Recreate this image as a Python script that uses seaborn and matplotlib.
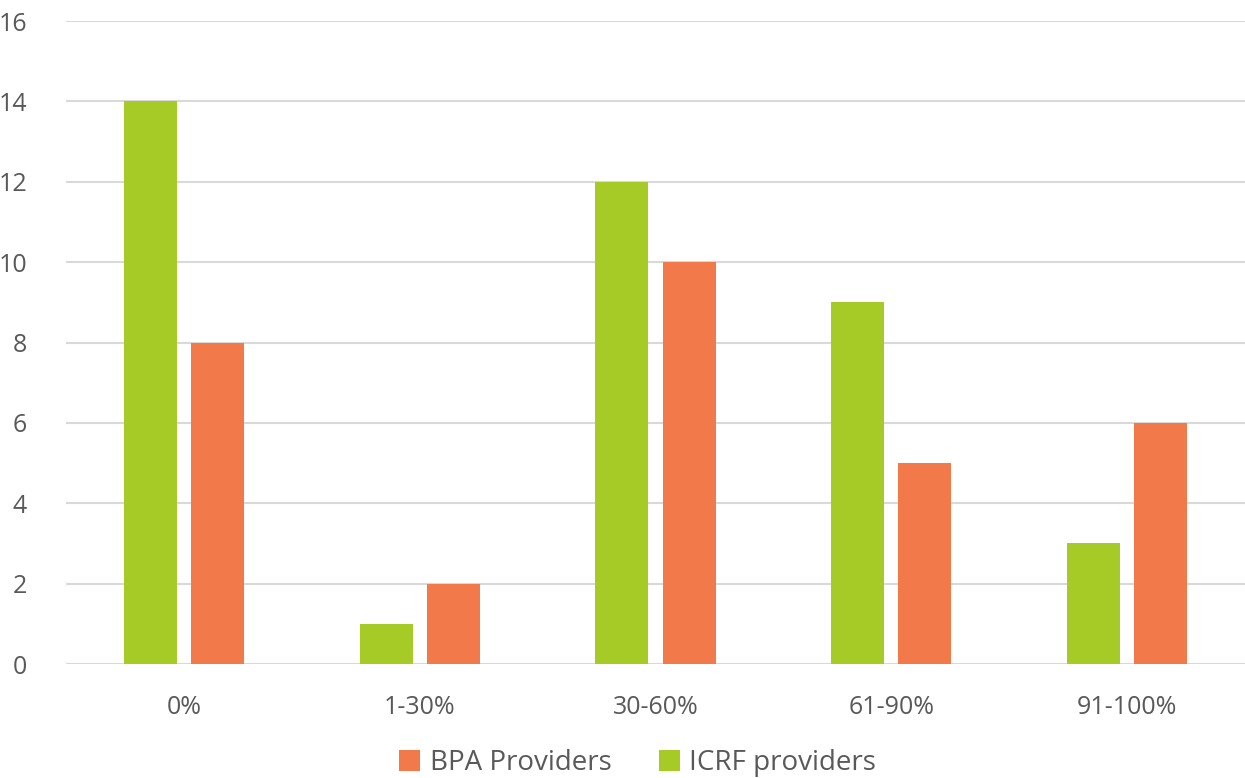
import pandas as pd
import matplotlib
matplotlib.use("Agg")
import matplotlib.pyplot as plt
import seaborn as sns

# Datos
categorias = ["0%", "1-30%", "30-60%", "61-90%", "91-100%"]
icrf_providers = [14, 1, 12, 9, 3]
bpa_providers = [8, 2, 10, 5, 6]

df = pd.DataFrame({
    "rango": categorias * 2,
    "valor": icrf_providers + bpa_providers,
    "grupo": ["ICRF providers"] * len(categorias) + ["BPA Providers"] * len(categorias),
})

sns.set_theme(style="white")
plt.rcParams["font.family"] = ["Open Sans", "DejaVu Sans"]

texto = "#595959"
colores = {"ICRF providers": "#A7CB26", "BPA Providers": "#F27A4A"}

fig = plt.figure(figsize=(12.45, 7.78), dpi=100)
ax = fig.add_axes([0.053, 0.1465, 0.947, 0.8265])

sns.barplot(data=df, x="rango", y="valor", hue="grupo",
            hue_order=["ICRF providers", "BPA Providers"],
            palette=colores, width=0.57, gap=0.21, saturation=1,
            linewidth=0, ax=ax, zorder=3)

ax.set_ylim(0, 16)
ax.set_xlim(-0.5, 4.5)
ax.set_yticks(range(0, 17, 2))
ax.yaxis.grid(True, color="#D9D9D9", linewidth=1.5, zorder=0)
ax.set_axisbelow(True)
for s in ax.spines.values():
    s.set_visible(False)
ax.set_xlabel("")
ax.set_ylabel("")
ax.tick_params(axis="y", length=0, pad=28, labelsize=18, labelcolor=texto)
ax.tick_params(axis="x", length=0, pad=22, labelsize=18, labelcolor=texto)

# Leyenda con BPA primero
handles, labels = ax.get_legend_handles_labels()
orden = [labels.index("BPA Providers"), labels.index("ICRF providers")]
ax.legend([handles[i] for i in orden], [labels[i] for i in orden],
          loc="lower center", bbox_to_anchor=(0.485, -0.215), ncol=2,
          frameon=False, fontsize=20, labelcolor=texto,
          handlelength=0.75, handleheight=0.75, handletextpad=0.35,
          columnspacing=1.7)

fig.savefig("out.png", dpi=100)
